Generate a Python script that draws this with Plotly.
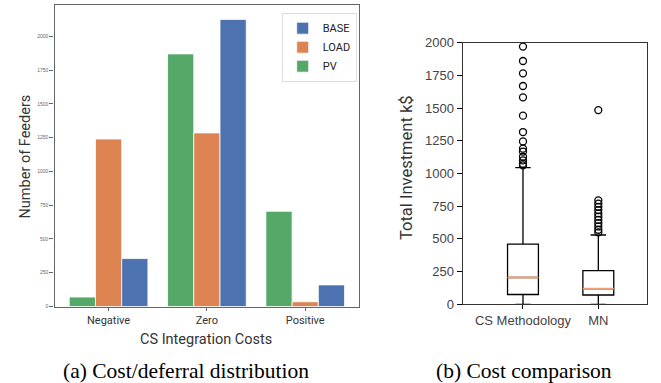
import plotly.graph_objects as go

# ---- data: panel (a) ----
categories = ["Negative", "Zero", "Positive"]
pv_counts = [70, 1870, 705]
load_counts = [1240, 1285, 35]
base_counts = [355, 2125, 160]

# ---- data: panel (b) ----
box_labels = ["CS Methodology", "MN"]
box_positions = [1, 2]
box_q1 = [75, 71]
box_median = [205, 118]
box_q3 = [460, 257]
box_low = [0, 0]
box_high = [1045, 530]
cs_outliers = [1970, 1860, 1766, 1669, 1582, 1442, 1317, 1245, 1190, 1168,
               1128, 1100, 1075, 1062]
mn_outliers = [1485, 795, 770, 745, 720, 695, 670, 645, 620, 595, 570, 550]
bar_ticks = [0, 250, 500, 750, 1000, 1250, 1500, 1750, 2000]
box_ticks = [0, 250, 500, 750, 1000, 1250, 1500, 1750, 2000]

W, H = 661, 383
NARROW = "Roboto, Liberation Sans, sans-serif"
SANS = "Liberation Sans, Arial, sans-serif"
SERIF = "Liberation Serif, Times New Roman, serif"


def nfont(size, color="#333"):
    return dict(family=NARROW, size=size, color=color)


C_BLUE = "#4C72B0"
C_ORANGE = "#DD8452"
C_GREEN = "#55A868"

fig = go.Figure()

for name, vals, col in [("PV", pv_counts, C_GREEN),
                        ("LOAD", load_counts, C_ORANGE),
                        ("BASE", base_counts, C_BLUE)]:
    fig.add_trace(go.Bar(x=categories, y=vals, name=name, marker_color=col,
                         marker_line=dict(color="white", width=0.8),
                         xaxis="x", yaxis="y"))

bw = 0.41
for pos, q1, md, q3, lo, hi in zip(box_positions, box_q1, box_median, box_q3, box_low, box_high):
    fig.add_trace(go.Box(x=[pos], q1=[q1], median=[md], q3=[q3], lowerfence=[lo],
                         upperfence=[hi], width=bw, whiskerwidth=0.5,
                         line=dict(color="black", width=1.3),
                         fillcolor="rgba(0,0,0,0)", boxpoints=False,
                         showlegend=False, xaxis="x2", yaxis="y2"))
    fig.add_trace(go.Scatter(x=[pos - bw / 2, pos + bw / 2], y=[md, md], mode="lines",
                             line=dict(color="#F2A27A", width=2), showlegend=False,
                             hoverinfo="skip", xaxis="x2", yaxis="y2"))

for pos, outs in zip(box_positions, [cs_outliers, mn_outliers]):
    fig.add_trace(go.Scatter(x=[pos] * len(outs), y=outs, mode="markers",
                             marker=dict(symbol="circle-open", size=7, color="black",
                                         line=dict(width=1.3)),
                             showlegend=False, xaxis="x2", yaxis="y2"))

fig.update_layout(
    width=W, height=H,
    margin=dict(l=0, r=0, t=0, b=0, autoexpand=False),
    paper_bgcolor="white", plot_bgcolor="white",
    barmode="group", bargap=0.2, bargroupgap=0,
    showlegend=True,
    legend=dict(x=281.7 / W, y=1 - 12.7 / H, xanchor="left", yanchor="top",
                traceorder="reversed", bgcolor="white", bordercolor="#dddddd",
                borderwidth=1, font=nfont(11, "#222"), itemwidth=30,
                tracegroupgap=0),
    xaxis=dict(domain=[54.5 / W, 359.3 / W], range=[-0.55, 2.55], anchor="y",
               automargin=False,
               showline=True, mirror=True, linecolor="#666", linewidth=1.2,
               ticks="outside", ticklen=3, tickcolor="#666",
               tickfont=nfont(11),
               showgrid=False, zeroline=False),
    yaxis=dict(domain=[1 - 306.5 / H, 1 - 5 / H], range=[0, 2232], anchor="x",
               automargin=False,
               showline=True, mirror=True, linecolor="#666", linewidth=1.2,
               ticks="outside", ticklen=4, tickcolor="#666",
               tickvals=bar_ticks, tickfont=dict(family=SANS, size=5, color="#666"),
               showgrid=False, zeroline=False),
    xaxis2=dict(domain=[462.7 / W, 647.3 / W], range=[0.2, 2.65], anchor="y2",
                automargin=False,
                showline=True, mirror=True, linecolor="#333", linewidth=1.3,
                tickvals=box_positions, ticktext=box_labels,
                ticks="outside", ticklen=4, tickcolor="black",
                tickfont=dict(family=SANS, size=13, color="#444"),
                showgrid=False, zeroline=False),
    yaxis2=dict(domain=[1 - 304.3 / H, 1 - 42.7 / H], range=[0, 2000], anchor="x2",
                automargin=False,
                showline=True, mirror=True, linecolor="#333", linewidth=1.3,
                tickvals=box_ticks, ticks="outside", ticklen=5, tickcolor="black",
                tickfont=dict(family=SANS, size=13, color="#444"),
                showgrid=False, zeroline=False),
)

ann = [
    dict(text="Number of Feeders", x=25 / W, y=1 - 156.5 / H, textangle=-90,
         font=nfont(14.5)),
    dict(text="CS Integration Costs", x=206 / W, y=1 - 339 / H,
         font=nfont(14.5)),
    dict(text="Total Investment k$", x=406 / W, y=1 - 168 / H, textangle=-90,
         font=nfont(16.5)),
    dict(text="(a) Cost/deferral distribution", x=186 / W, y=1 - 371 / H,
         font=dict(family=SERIF, size=21.5, color="black")),
    dict(text="(b) Cost comparison", x=524 / W, y=1 - 371 / H,
         font=dict(family=SERIF, size=21.5, color="black")),
]
for a in ann:
    fig.add_annotation(xref="paper", yref="paper", showarrow=False,
                       xanchor="center", yanchor="middle", **a)

fig.write_html("out.html", config={"displayModeBar": False},
               post_script="document.body.style.margin='0';document.body.style.overflow='hidden';")
